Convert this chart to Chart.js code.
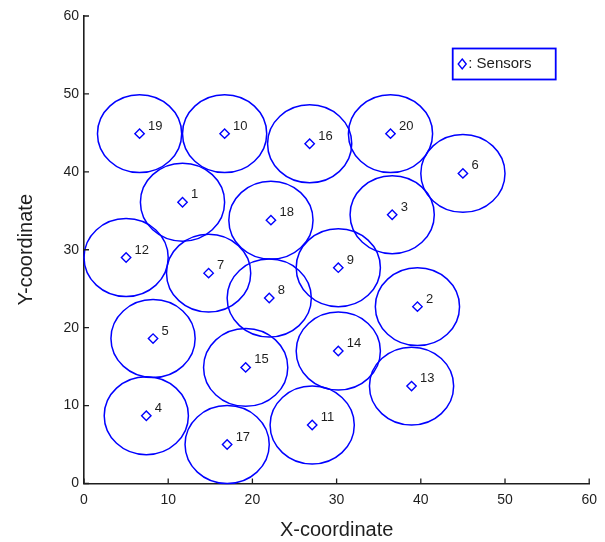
<!DOCTYPE html>
<html>
<head>
<meta charset="utf-8">
<script src="https://cdn.jsdelivr.net/npm/chart.js@4.4.0/dist/chart.umd.min.js"></script>
<style>
  html, body { margin: 0; padding: 0; background: #fff; }
  #wrap { width: 605px; height: 542px; }
</style>
</head>
<body>
<div id="wrap"><canvas id="sensorChart" width="605" height="542"></canvas></div>
<script>
// sensor positions (id order)
const sensorIds = [1, 2, 3, 4, 5, 6, 7, 8, 9, 10, 11, 12, 13, 14, 15, 16, 17, 18, 19, 20];
const sensorX = [11.7, 39.6, 36.6, 7.4, 8.2, 45.0, 14.8, 22.0, 30.2, 16.7, 27.1, 5.0, 38.9, 30.2, 19.2, 26.8, 17.0, 22.2, 6.6, 36.4];
const sensorY = [36.1, 22.7, 34.5, 8.7, 18.6, 39.8, 27.0, 23.8, 27.7, 44.9, 7.5, 29.0, 12.5, 17.0, 14.9, 43.6, 5.0, 33.8, 44.9, 44.9];
const sensingRadius = 5;
const xTicks = [0, 10, 20, 30, 40, 50, 60];
const yTicks = [0, 10, 20, 30, 40, 50, 60];

const BLUE = '#0000ff';
const TEXT = '#1e1e1e';
const FONT = "'Liberation Sans', Arial, Helvetica, sans-serif";

// --- plugins ---

// sensing range of each sensor, a circle in data units (so an ellipse on screen)
const coverageCircles = {
    id: 'coverageCircles',
    beforeDatasetsDraw(chart) {
        const { ctx, scales: { x, y } } = chart;
        ctx.save();
        ctx.strokeStyle = BLUE;
        ctx.lineWidth = 1.5;
        sensorX.forEach((sx, i) => {
            const cx = x.getPixelForValue(sx);
            const cy = y.getPixelForValue(sensorY[i]);
            const rx = x.getPixelForValue(sx + sensingRadius) - cx;
            const ry = cy - y.getPixelForValue(sensorY[i] + sensingRadius);
            ctx.beginPath();
            ctx.ellipse(cx, cy, rx, ry, 0, 0, Math.PI * 2);
            ctx.stroke();
        });
        ctx.restore();
    }
};

// id numbers next to the diamonds
const sensorLabels = {
    id: 'sensorLabels',
    afterDatasetsDraw(chart) {
        const { ctx } = chart;
        const meta = chart.getDatasetMeta(0);
        ctx.save();
        ctx.fillStyle = TEXT;
        ctx.font = '13px ' + FONT;
        ctx.textAlign = 'left';
        ctx.textBaseline = 'middle';
        meta.data.forEach((pt, i) => {
            ctx.fillText(String(sensorIds[i]), pt.x + 8.5, pt.y - 7.5);
        });
        ctx.restore();
    }
};

// inward tick marks like matlab
const inwardTicks = {
    id: 'inwardTicks',
    afterDraw(chart) {
        const { ctx, chartArea, scales: { x, y } } = chart;
        ctx.save();
        ctx.strokeStyle = TEXT;
        ctx.lineWidth = 1.3;
        ctx.beginPath();
        xTicks.forEach(v => {
            const px = x.getPixelForValue(v);
            ctx.moveTo(px, chartArea.bottom);
            ctx.lineTo(px, chartArea.bottom - 5);
        });
        yTicks.forEach(v => {
            const py = y.getPixelForValue(v);
            ctx.moveTo(chartArea.left, py);
            ctx.lineTo(chartArea.left + 5, py);
        });
        ctx.stroke();
        ctx.restore();
    }
};

// boxed legend in the upper right of the plot
const sensorLegend = {
    id: 'sensorLegend',
    afterDraw(chart) {
        const { ctx, chartArea } = chart;
        const bx = chartArea.right - 136.5, by = chartArea.top + 32.5, bw = 103, bh = 31;
        ctx.save();
        ctx.fillStyle = '#fff';
        ctx.fillRect(bx, by, bw, bh);
        ctx.strokeStyle = BLUE;
        ctx.lineWidth = 1.8;
        ctx.strokeRect(bx, by, bw, bh);
        const dx = bx + 9.5, dy = by + 15.5;
        ctx.lineWidth = 1.4;
        ctx.beginPath();
        ctx.moveTo(dx, dy - 5);
        ctx.lineTo(dx + 4, dy);
        ctx.lineTo(dx, dy + 5);
        ctx.lineTo(dx - 4, dy);
        ctx.closePath();
        ctx.stroke();
        ctx.fillStyle = TEXT;
        ctx.font = '15px ' + FONT;
        ctx.textBaseline = 'middle';
        ctx.fillText(': Sensors', dx + 6, dy);
        ctx.restore();
    }
};

// --- chart ---

const ctx_sensores = document.getElementById('sensorChart');
new Chart(ctx_sensores, {
    type: 'scatter',
    data: {
        datasets: [{
            label: 'Sensors',
            data: sensorX.map((sx, i) => ({ x: sx, y: sensorY[i] })),
            pointStyle: 'rectRot',
            pointRadius: 4.7,
            pointHoverRadius: 4.7,
            borderColor: BLUE,
            borderWidth: 1.4,
            backgroundColor: 'rgba(0,0,0,0)'
        }]
    },
    options: {
        responsive: false,
        animation: false,
        layout: { padding: { left: 0, right: 15, top: 16, bottom: 0 } },
        plugins: { legend: { display: false }, tooltip: { enabled: false } },
        scales: {
            x: {
                type: 'linear', min: 0, max: 60,
                afterBuildTicks: s => { s.ticks = xTicks.map(v => ({ value: v })); },
                afterFit: s => { s.height = 58.5; },
                grid: { display: false, drawTicks: false },
                border: { display: true, color: TEXT, width: 1.6 },
                ticks: { color: TEXT, padding: 8, font: { size: 14, family: FONT } },
                title: { display: true, text: 'X-coordinate', color: TEXT, padding: { top: 0, bottom: 0 }, font: { size: 20, family: FONT } }
            },
            y: {
                type: 'linear', min: 0, max: 60,
                afterBuildTicks: s => { s.ticks = yTicks.map(v => ({ value: v })); },
                afterFit: s => { s.width = 84; },
                grid: { display: false, drawTicks: false },
                border: { display: true, color: TEXT, width: 1.6 },
                ticks: { color: TEXT, padding: 5, font: { size: 14, family: FONT } },
                title: { display: true, text: 'Y-coordinate', color: TEXT, padding: { top: 14, bottom: 0 }, font: { size: 20, family: FONT } }
            }
        }
    },
    plugins: [coverageCircles, sensorLabels, inwardTicks, sensorLegend]
});
</script>
</body>
</html>
